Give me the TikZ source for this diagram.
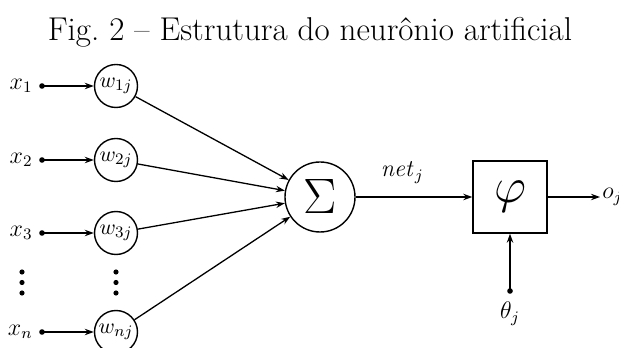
\documentclass[tikz,border=0pt]{standalone}
\usepackage{tikz}
\usetikzlibrary{arrows.meta, positioning, calc}
\tikzset{
  weight/.style={draw, circle, line width=0.7pt, minimum size=21.5pt, inner sep=0pt, font=\fontsize{11}{13}\selectfont},
  summer/.style={draw, circle, line width=0.7pt, minimum size=35pt, inner sep=0pt, font=\fontsize{26}{28}\selectfont},
  actbox/.style={draw, rectangle, line width=0.7pt, minimum width=37pt, minimum height=36pt, inner sep=0pt, font=\fontsize{28}{30}\selectfont},
  indot/.style={circle, fill, inner sep=0pt, minimum size=2.8pt},
  sig/.style={-{Stealth[length=4.5pt, width=3.2pt]}, line width=0.65pt},
}
\begin{document}
\begin{tikzpicture}[x=0.5pt, y=0.5pt]
    \useasboundingbox (0,0) rectangle (619,347);
    % Title
    \node[font=\fontsize{16.5}{18}\selectfont] (title) at (310,315) {Fig.~2 -- Estrutura do neur\^onio artificial};
    % Inputs and weights
    \foreach \i/\y in {1/261, 2/187, 3/114, n/15} {
      \node[indot] (d\i) at (42,\y) {};
      \node[anchor=east, font=\large, inner sep=0pt] (x\i) at (33,\y) {$x_{\i}$};
      \node[weight] (w\i) at (116,\y) {$w_{\i j}$};
      \draw[sig] (d\i.center) -- (w\i);
    }
    % Ellipsis between x3 and xn
    \foreach \yy in {75, 64.5, 54} {
      \fill (22,\yy) circle (1.3pt);
      \fill (116,\yy) circle (1.3pt);
    }
    % Summation
    \node[summer] (sum) at (320,150) {$\Sigma$};
    \foreach \i in {1,2,3,n} {
      \draw[sig] (w\i) -- (sum);
    }
    % Activation
    \node[actbox] (act) at (510,150) {$\varphi$};
    \draw[sig] (sum) -- (act) node[pos=0.4, above=3pt, font=\large] (net) {$\mathit{net}_j$};
    % Output
    \coordinate (oend) at (600,150);
    \draw[sig] (act) -- (oend);
    \node[anchor=west, font=\large, inner sep=1pt] (out) at (oend) {$o_j$};
    % Threshold
    \node[indot] (tdot) at (510,56) {};
    \draw[sig] (tdot.center) -- (act);
    \node[font=\large] (theta) at (510,33) {$\theta_j$};
\end{tikzpicture}
\end{document}
